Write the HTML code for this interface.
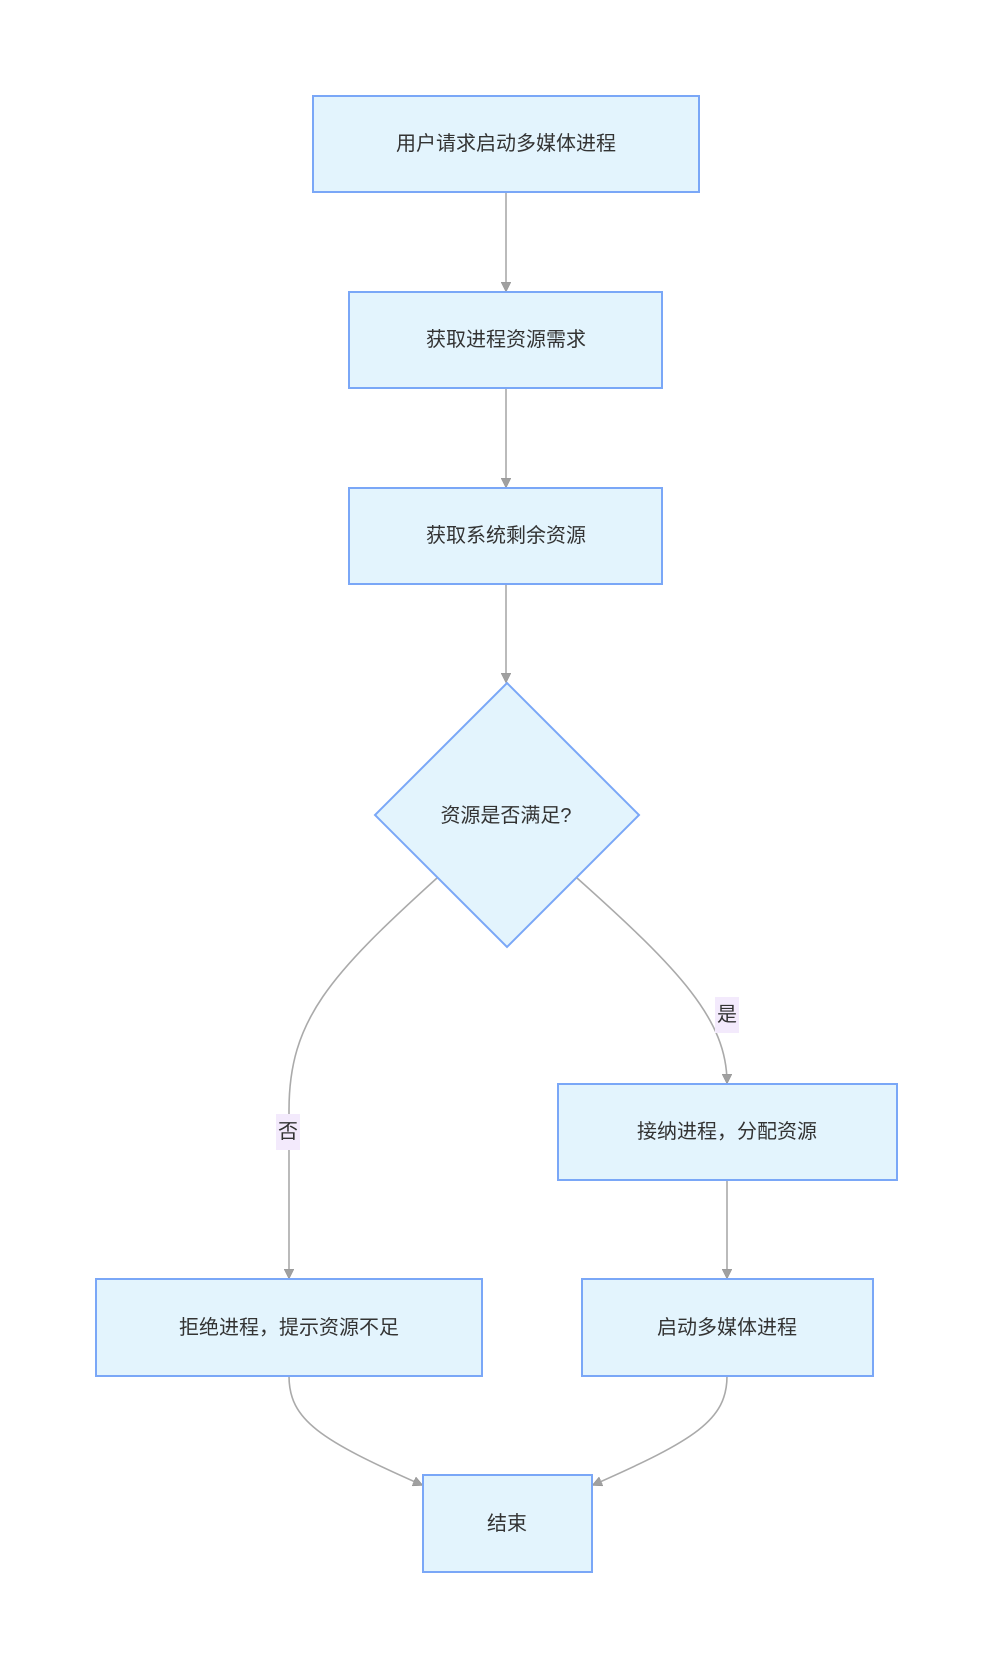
<!DOCTYPE html>
<html><head><meta charset="utf-8"><style>
html,body{margin:0;padding:0;background:#fff;}
svg{display:block;}
text{font-family:"Liberation Sans","Noto Sans CJK SC",sans-serif;font-size:20px;fill:#333;}
</style></head><body>
<svg width="988" height="1668" viewBox="0 0 988 1668" xmlns="http://www.w3.org/2000/svg">
<defs>
<marker id="a" viewBox="0 0 10 10" refX="9" refY="5" markerWidth="10" markerHeight="10" markerUnits="userSpaceOnUse" orient="auto">
<path d="M0,0 L10,5 L0,10 z" fill="#a0a0a0" stroke="#909090" stroke-width="0.5"/>
</marker>
</defs>
<g fill="none" stroke="#aaaaaa" stroke-width="1.6">
<path d="M506,192 L506,291" marker-end="url(#a)"/>
<path d="M506,388 L506,487" marker-end="url(#a)"/>
<path d="M506,584 L506,682" marker-end="url(#a)"/>
<path d="M437,878 C330,975 289,1020 289,1110 L289,1278" marker-end="url(#a)"/>
<path d="M577,878 C680,970 727,1020 727,1083" marker-end="url(#a)"/>
<path d="M727,1180 L727,1278" marker-end="url(#a)"/>
<path d="M289,1376 C289,1420 320,1440 422,1485" marker-end="url(#a)"/>
<path d="M727,1376 C727,1420 695,1440 593,1485" marker-end="url(#a)"/>
</g>
<g fill="#e3f4fd" stroke="#7aa7f7" stroke-width="2">
<rect x="313" y="96" width="386" height="96"/>
<rect x="349" y="292" width="313" height="96"/>
<rect x="349" y="488" width="313" height="96"/>
<polygon points="507,683 639,815 507,947 375,815"/>
<rect x="558" y="1084" width="339" height="96"/>
<rect x="96" y="1279" width="386" height="97"/>
<rect x="582" y="1279" width="291" height="97"/>
<rect x="423" y="1475" width="169" height="97"/>
</g>
<rect x="276" y="1114" width="24" height="36" fill="#f3eafc"/>
<rect x="715" y="997" width="24" height="36" fill="#f3eafc"/>
<g text-anchor="middle" dominant-baseline="central">
<text x="506" y="144">用户请求启动多媒体进程</text>
<text x="506" y="340">获取进程资源需求</text>
<text x="506" y="536">获取系统剩余资源</text>
<text x="506" y="816">资源是否满足?</text>
<text x="727" y="1132">接纳进程，分配资源</text>
<text x="289" y="1328">拒绝进程，提示资源不足</text>
<text x="727" y="1328">启动多媒体进程</text>
<text x="507" y="1524">结束</text>
<text x="288" y="1132">否</text>
<text x="727" y="1015">是</text>
</g>
</svg>
</body></html>
